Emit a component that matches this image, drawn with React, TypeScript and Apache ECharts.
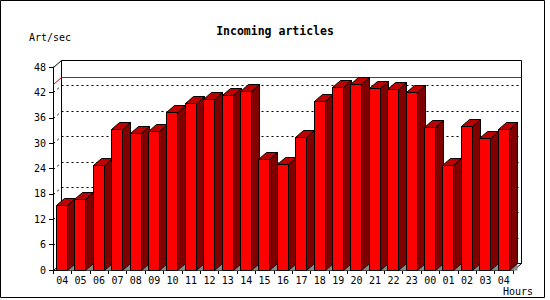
import React, { useEffect, useRef } from "react";
import * as echarts from "echarts";

const hours = ["04","05","06","07","08","09","10","11","12","13","14","15","16","17","18","19","20","21","22","23","00","01","02","03","04"];
const rates = [15.4, 16.7, 24.8, 33.3, 32.3, 32.8, 37.3, 39.4, 40.4, 41.3, 42.3, 26.2, 25.0, 31.4, 39.9, 43.2, 44.0, 43.0, 42.7, 42.1, 33.8, 24.8, 34.0, 31.2, 33.3];
const gridValues = [6, 12, 18, 24, 30, 36, 42];
const yMin = 0;
const yMax = 48;
const yStep = 6;

const DX = 8;
const DY = 7;
const MONO = "'DejaVu Sans Mono', 'Liberation Mono', monospace";

const px = (v: number) => Math.round(v) + 0.5;

export default function App() {
  const ref = useRef<HTMLDivElement>(null);
  useEffect(() => {
    if (!ref.current) return;
    const chart = echarts.init(ref.current, null, { renderer: "svg" });
    const maxRate = Math.max(...rates);

    const option: any = {
      animation: false,
      backgroundColor: "#fff",
      title: {
        text: "Incoming articles",
        left: "center",
        top: 20,
        textStyle: { fontFamily: MONO, fontWeight: "bold", fontSize: 11.5, color: "#000" },
      },
      grid: { left: 53, right: 37, top: 67, bottom: 30 },
      xAxis: {
        type: "category",
        data: hours,
        boundaryGap: true,
        axisLine: { show: true, lineStyle: { color: "#000", width: 1 } },
        axisTick: { show: true, length: 4, interval: 0, lineStyle: { color: "#000" } },
        axisLabel: { interval: 0, fontFamily: MONO, fontSize: 10, color: "#000", margin: 5 },
        splitLine: { show: false },
      },
      yAxis: {
        type: "value",
        min: yMin,
        max: yMax,
        interval: yStep,
        axisLine: { show: true, lineStyle: { color: "#000", width: 1 } },
        axisTick: { show: true, length: 4, lineStyle: { color: "#000" } },
        axisLabel: { fontFamily: MONO, fontSize: 10, color: "#000", margin: 7 },
        splitLine: { show: false },
      },
      graphic: [
        { type: "rect", shape: { x: 0.5, y: 0.5, width: 544, height: 297 }, style: { fill: "none", stroke: "#000", lineWidth: 1 }, z: 100 },
        { type: "text", left: 29, top: 32, style: { text: "Art/sec", font: `10px ${MONO}`, fill: "#000" } },
        { type: "text", left: 503, top: 286, style: { text: "Hours", font: `10px ${MONO}`, fill: "#000" } },
      ],
      series: [
        {
          type: "custom",
          name: "frame",
          z: 1,
          data: [[0, yMax]],
          encode: { x: 0, y: 1 },
          renderItem: (params: any, api: any) => {
            const cs = params.coordSys;
            const l = px(cs.x), r = px(cs.x + cs.width), t = px(cs.y), b = px(cs.y + cs.height);
            return {
              type: "group",
              children: [
                { type: "polyline", shape: { points: [[l, t], [l + DX, t - DY], [r + DX, t - DY], [r + DX, b - DY], [r, b]] }, style: { stroke: "#000", fill: "none", lineWidth: 1 } },
                { type: "line", shape: { x1: l + DX, y1: t - DY, x2: l + DX, y2: b - DY }, style: { stroke: "#000", lineWidth: 1 } },
                { type: "line", shape: { x1: l, y1: b, x2: l + DX, y2: b - DY }, style: { stroke: "#000", lineWidth: 1 } },
                { type: "line", shape: { x1: l + DX, y1: b - DY, x2: r + DX, y2: b - DY }, style: { stroke: "#000", lineWidth: 1 } },
              ],
            };
          },
        },
        {
          type: "custom",
          name: "gridlines",
          z: 1,
          data: gridValues.map((v) => [0, v]),
          encode: { x: 0, y: 1 },
          renderItem: (params: any, api: any) => {
            const cs = params.coordSys;
            const y = px(api.coord([0, api.value(1)])[1]);
            const l = px(cs.x), r = px(cs.x + cs.width);
            const st = { stroke: "#000", lineWidth: 1, lineDash: [2, 3] };
            return {
              type: "group",
              children: [
                { type: "line", shape: { x1: l, y1: y, x2: l + DX, y2: y - DY }, style: st },
                { type: "line", shape: { x1: l + DX, y1: y - DY, x2: r + DX, y2: y - DY }, style: st },
              ],
            };
          },
        },
        {
          type: "custom",
          name: "max",
          z: 1,
          data: [[0, maxRate]],
          encode: { x: 0, y: 1 },
          renderItem: (params: any, api: any) => {
            const cs = params.coordSys;
            const y = px(api.coord([0, api.value(1)])[1]);
            const l = px(cs.x), r = px(cs.x + cs.width);
            return {
              type: "polyline",
              shape: { points: [[l, y], [l + DX, y - DY], [r + DX, y - DY]] },
              style: { stroke: "#e00000", fill: "none", lineWidth: 1 },
            };
          },
        },
        {
          type: "custom",
          name: "Art/sec",
          z: 3,
          data: rates.map((v, i) => [i, v]),
          encode: { x: 0, y: 1 },
          renderItem: (params: any, api: any) => {
            const idx = api.value(0);
            const top = api.coord([idx, api.value(1)]);
            const base = api.coord([idx, 0]);
            const bw = api.size([1, 0])[0];
            const slot = top[0] - bw / 2;
            const x0 = px(slot + bw * 0.163);
            const x1 = x0 + Math.round(bw * 0.6);
            const yt = px(top[1]);
            const yb = px(base[1]);
            const line = { stroke: "#000", lineWidth: 1 };
            return {
              type: "group",
              children: [
                { type: "polygon", shape: { points: [[x1, yb], [x1 + DX, yb], [x1 + DX, yb - DY]] }, style: { fill: "#8a8a8a", stroke: "none" } },
                { type: "polygon", shape: { points: [[x1, yt], [x1 + DX, yt - DY], [x1 + DX, yb - DY], [x1, yb]] }, style: { fill: "#800000", ...line } },
                { type: "rect", shape: { x: x0, y: yt, width: x1 - x0, height: yb - yt }, style: { fill: "#ff0000", ...line } },
                { type: "polygon", shape: { points: [[x0, yt], [x0 + DX, yt - DY], [x1 + DX, yt - DY], [x1, yt]] }, style: { fill: "#c00000", ...line } },
              ],
            };
          },
        },
      ],
    };
    chart.setOption(option);
    return () => chart.dispose();
  }, []);
  return <div ref={ref} style={{ position: "fixed", left: 0, top: 0, width: 550, height: 300 }} />;
}
